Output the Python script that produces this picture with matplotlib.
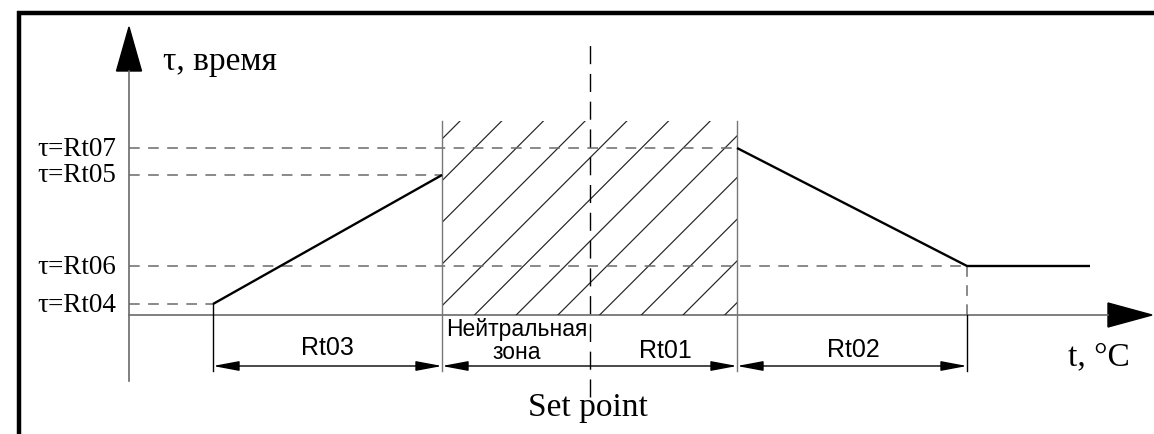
import numpy as np
import matplotlib
matplotlib.use("Agg")
import matplotlib.pyplot as plt
from matplotlib.patches import Rectangle, Polygon

## Diagram values (schematic units, origin at axes crossing)
tau_labels = ["τ=Rt04", "τ=Rt06", "τ=Rt05", "τ=Rt07"]
tau_values = [11, 49, 140, 167]

## Temperature breakpoints
t_rt03_start = 84
t_neutral_left = 313
t_setpoint = 461
t_rt01_right = 608
t_rt02_right = 838
t_line_end = 961

## Curve segments
heat_x = [t_rt03_start, t_neutral_left]
heat_y = [tau_values[0], tau_values[2]]
cool_x = [t_rt01_right, t_rt02_right, t_line_end]
cool_y = [tau_values[3], tau_values[1], tau_values[1]]

## Dimension spans
span_edges = [(t_rt03_start, t_neutral_left), (t_neutral_left, t_rt01_right),
              (t_rt01_right, t_rt02_right)]
span_labels = ["Rt03", "Rt02"]

SERIF = ["Liberation Serif", "DejaVu Serif"]
SANS = ["Liberation Sans", "DejaVu Sans"]
GRAY = "#6a6a6a"

fig = plt.figure(figsize=(11.54, 4.35), dpi=100)
ax = fig.add_axes([0, 0, 1, 1])
ax.set_xlim(-129, 1025)
ax.set_ylim(-119, 316)
ax.axis("off")

## Frame (top and left edges only)
ax.plot([-112, 1025], [302, 302], color="black", lw=3.2, solid_capstyle="butt")
ax.plot([-110, -110], [304, -119], color="black", lw=3.2, solid_capstyle="butt")

## Axes with arrow heads
y_top, x_right = 288, 1023
ax.plot([0, 0], [-66, 244], color=GRAY, lw=1.2)
ax.plot([0, 979], [0, 0], color=GRAY, lw=1.2)
ax.add_patch(Polygon([[0, y_top], [-12.5, 244], [12.5, 244]], closed=True, color="black"))
ax.add_patch(Polygon([[x_right, 0], [979, 12], [979, -12]], closed=True, color="black"))
ax.text(34, 254, "τ, время", family=SERIF, fontsize=24, ha="left", va="center")
ax.text(970, -41, "t, °C", family=SERIF, fontsize=24, ha="center", va="center")

## Hatched neutral zone + Rt01
hatch_top = 194
clip = Rectangle((t_neutral_left, 0), t_rt01_right - t_neutral_left, hatch_top,
                 transform=ax.transData, fill=False, lw=0)
ax.add_patch(clip)
for b in -137 - 41.7 * np.arange(12):
    ln, = ax.plot([t_neutral_left - 50, t_rt01_right + 50],
                  [t_neutral_left - 50 + b, t_rt01_right + 50 + b],
                  color="#222222", lw=0.85)
    ln.set_clip_path(clip)

## Dashed level lines and their labels
ends = [t_rt03_start, t_rt02_right, t_neutral_left, t_rt01_right]
for lab, val, end in zip(tau_labels, tau_values, ends):
    ax.plot([0, end], [val, val], color=GRAY, lw=1.1, dashes=(7, 5.5))
    ax.text(-13, val, lab, family=SERIF, fontsize=19.5, ha="right", va="center")

## Extension lines
ext_bottom = -56
ax.plot([t_neutral_left, t_neutral_left], [ext_bottom, hatch_top], color="#777777", lw=1.0)
ax.plot([t_rt01_right, t_rt01_right], [ext_bottom, hatch_top], color="#777777", lw=1.0)
ax.plot([t_rt03_start, t_rt03_start], [ext_bottom, tau_values[0]], color="black", lw=1.0)
ax.plot([t_rt02_right, t_rt02_right], [0, tau_values[1]], color=GRAY, lw=1.1, dashes=(7, 5.5))
ax.plot([t_rt02_right, t_rt02_right], [ext_bottom, 0], color="black", lw=1.0)

## Set point centre line
ax.plot([t_setpoint, t_setpoint], [-82, 273], color="black", lw=1.0, dashes=(13, 7))
ax.text(t_setpoint - 2, -92, "Set point", family=SERIF, fontsize=24, ha="center", va="center")

## Characteristic curve
ax.plot(heat_x, heat_y, color="black", lw=1.7, solid_capstyle="butt")
ax.plot(cool_x, cool_y, color="black", lw=1.7, solid_capstyle="butt")

## Dimension lines
dim_y = -51
for x0, x1 in span_edges:
    ax.annotate("", xy=(x0, dim_y), xytext=(x1, dim_y),
                arrowprops=dict(arrowstyle="<|-|>,head_length=1.6,head_width=0.3",
                                color="black", lw=1.0, shrinkA=0, shrinkB=0))
ax.text((span_edges[0][0] + span_edges[0][1]) / 2, -32, span_labels[0],
        family=SANS, fontsize=18, ha="center", va="center")
ax.text((span_edges[2][0] + span_edges[2][1]) / 2 + 1, -34, span_labels[1],
        family=SANS, fontsize=18, ha="center", va="center")
ax.text(388, -14, "Нейтральная", family=SANS, fontsize=16.5, ha="center", va="center")
ax.text(388, -37, "зона", family=SANS, fontsize=16.5, ha="center", va="center")
ax.text(536, -35, "Rt01", family=SANS, fontsize=18, ha="center", va="center")

fig.savefig("out.png", dpi=100)
